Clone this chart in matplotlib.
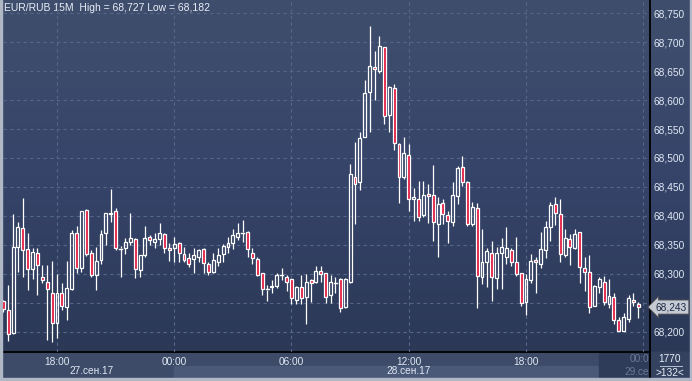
import numpy as np
import matplotlib
matplotlib.use("Agg")
import matplotlib.pyplot as plt
from matplotlib.patches import Rectangle
from matplotlib.colors import LinearSegmentedColormap
import matplotlib.transforms as mtrans

plt.rcParams['font.family'] = ['Liberation Sans', 'DejaVu Sans']

# EUR/RUB 15M, свечи 27.09 15:15 ... 28.09 23:45 (индекс 1..131)
opens = [
    68.254, 68.238, 68.199, 68.347, 68.379, 68.343, 68.308, 68.336, 68.295, 68.287,
    68.268, 68.216, 68.268, 68.243, 68.274, 68.370, 68.310, 68.410, 68.336, 68.298,
    68.324, 68.370, 68.403, 68.408, 68.344, 68.344, 68.356, 68.360, 68.307, 68.332,
    68.363, 68.356, 68.361, 68.369, 68.345, 68.344, 68.353, 68.335, 68.327, 68.325,
    68.330, 68.343, 68.318, 68.304, 68.321, 68.335, 68.347, 68.353, 68.364, 68.371,
    68.373, 68.336, 68.325, 68.301, 68.274, 68.277, 68.279, 68.298, 68.295, 68.291,
    68.256, 68.277, 68.260, 68.290, 68.287, 68.306, 68.301, 68.264, 68.285, 68.291,
    68.243, 68.287, 68.467, 68.459, 68.537, 68.613, 68.657, 68.650, 68.691, 68.575,
    68.620, 68.524, 68.467, 68.506, 68.429, 68.430, 68.401, 68.438, 68.436, 68.386,
    68.422, 68.402, 68.390, 68.435, 68.484, 68.459, 68.386, 68.413, 68.295, 68.321,
    68.337, 68.293, 68.336, 68.330, 68.341, 68.321, 68.301, 68.251, 68.290, 68.324,
    68.318, 68.341, 68.381, 68.421, 68.403, 68.332, 68.360, 68.344, 68.372, 68.310,
    68.304, 68.245, 68.277, 68.287, 68.249, 68.260, 68.220, 68.202, 68.222, 68.256,
    68.249]
highs = [
    68.255, 68.281, 68.403, 68.390, 68.431, 68.370, 68.344, 68.344, 68.316, 68.316,
    68.323, 68.300, 68.285, 68.322, 68.376, 68.382, 68.409, 68.412, 68.341, 68.347,
    68.376, 68.406, 68.446, 68.413, 68.348, 68.362, 68.405, 68.362, 68.333, 68.383,
    68.367, 68.371, 68.388, 68.370, 68.353, 68.364, 68.356, 68.347, 68.336, 68.344,
    68.343, 68.344, 68.321, 68.337, 68.344, 68.352, 68.364, 68.377, 68.388, 68.393,
    68.374, 68.344, 68.330, 68.302, 68.281, 68.290, 68.301, 68.310, 68.298, 68.292,
    68.279, 68.298, 68.300, 68.291, 68.314, 68.314, 68.302, 68.298, 68.295, 68.293,
    68.293, 68.490, 68.527, 68.544, 68.635, 68.727, 68.684, 68.710, 68.692, 68.624,
    68.627, 68.525, 68.536, 68.524, 68.448, 68.460, 68.460, 68.456, 68.488, 68.433,
    68.430, 68.409, 68.458, 68.487, 68.503, 68.460, 68.424, 68.423, 68.377, 68.344,
    68.357, 68.346, 68.362, 68.381, 68.344, 68.363, 68.302, 68.300, 68.335, 68.329,
    68.373, 68.392, 68.424, 68.432, 68.429, 68.377, 68.369, 68.377, 68.373, 68.329,
    68.333, 68.281, 68.295, 68.296, 68.291, 68.267, 68.226, 68.232, 68.264, 68.267,
    68.252]
lows = [
    68.234, 68.184, 68.197, 68.304, 68.295, 68.272, 68.291, 68.264, 68.284, 68.187,
    68.182, 68.189, 68.238, 68.221, 68.272, 68.301, 68.304, 68.331, 68.295, 68.272,
    68.318, 68.350, 68.390, 68.341, 68.295, 68.335, 68.350, 68.293, 68.295, 68.329,
    68.350, 68.344, 68.350, 68.337, 68.323, 68.321, 68.321, 68.321, 68.312, 68.302,
    68.321, 68.302, 68.298, 68.302, 68.314, 68.321, 68.336, 68.343, 68.359, 68.356,
    68.330, 68.318, 68.297, 68.264, 68.254, 68.268, 68.275, 68.290, 68.271, 68.248,
    68.248, 68.249, 68.214, 68.252, 68.284, 68.287, 68.250, 68.250, 68.267, 68.235,
    68.241, 68.284, 68.386, 68.444, 68.536, 68.545, 68.600, 68.647, 68.559, 68.544,
    68.514, 68.423, 68.463, 68.409, 68.392, 68.392, 68.399, 68.388, 68.357, 68.330,
    68.386, 68.353, 68.383, 68.420, 68.452, 68.383, 68.383, 68.241, 68.283, 68.277,
    68.254, 68.274, 68.274, 68.318, 68.313, 68.297, 68.245, 68.229, 68.285, 68.268,
    68.310, 68.327, 68.357, 68.385, 68.321, 68.330, 68.316, 68.343, 68.285, 68.270,
    68.233, 68.244, 68.268, 68.246, 68.241, 68.214, 68.201, 68.201, 68.218, 68.244,
    68.224]
closes = [
    68.239, 68.197, 68.347, 68.381, 68.341, 68.308, 68.338, 68.316, 68.290, 68.274,
    68.215, 68.267, 68.245, 68.275, 68.371, 68.310, 68.408, 68.335, 68.298, 68.322,
    68.369, 68.405, 68.406, 68.344, 68.343, 68.355, 68.362, 68.308, 68.332, 68.362,
    68.359, 68.360, 68.370, 68.344, 68.341, 68.351, 68.336, 68.324, 68.318, 68.332,
    68.341, 68.319, 68.304, 68.324, 68.333, 68.348, 68.353, 68.367, 68.370, 68.372,
    68.343, 68.327, 68.298, 68.274, 68.273, 68.279, 68.298, 68.298, 68.287, 68.258,
    68.278, 68.259, 68.287, 68.284, 68.306, 68.300, 68.261, 68.286, 68.285, 68.241,
    68.291, 68.472, 68.456, 68.534, 68.612, 68.659, 68.653, 68.693, 68.573, 68.623,
    68.525, 68.467, 68.508, 68.430, 68.432, 68.399, 68.436, 68.434, 68.389, 68.421,
    68.403, 68.392, 68.436, 68.482, 68.459, 68.387, 68.415, 68.297, 68.321, 68.340,
    68.294, 68.336, 68.347, 68.344, 68.320, 68.300, 68.250, 68.291, 68.323, 68.320,
    68.343, 68.381, 68.419, 68.405, 68.334, 68.362, 68.346, 68.369, 68.312, 68.303,
    68.243, 68.279, 68.291, 68.251, 68.262, 68.220, 68.202, 68.225, 68.258, 68.251,
    68.243]

price_ticks = [68.20, 68.25, 68.30, 68.35, 68.40, 68.45, 68.50, 68.55, 68.60, 68.65, 68.70, 68.75]
time_pos = [12, 36, 60, 84, 108, 132]
time_labels = ['18:00', '00:00', '06:00', '12:00', '18:00', '00:00']
date_pos = [19, 84]
date_labels = ['27.сен.17', '28.сен.17']
last_price = 68.243

W, H = 692, 381
fig = plt.figure(figsize=(W / 100, H / 100), dpi=100)

# фон в пикселях
bg = fig.add_axes([0, 0, 1, 1])
bg.set_xlim(0, W)
bg.set_ylim(H, 0)
bg.axis('off')
cmap = LinearSegmentedColormap.from_list('bgc', ['#404e6d', '#36446a', '#2b3856'])
grad = np.linspace(0, 1, 256).reshape(-1, 1)
bg.imshow(grad, cmap=cmap, extent=(0, W, 352, 0), aspect='auto', zorder=0)
bg.add_patch(Rectangle((0, 352), W, 29, color='#3d4b68', zorder=1))
bg.add_patch(Rectangle((174, 366), 425, 12, color='#4b5978', zorder=1))
bg.add_patch(Rectangle((599, 352), 51, 26, color='#2f3c59', zorder=1))
bg.add_patch(Rectangle((650, 352), 40, 26, color='#34415f', zorder=1))
bg.plot([3, 650], [352, 352], color='black', lw=1.3, zorder=2)
bg.plot([650, 650], [0, 378], color='black', lw=1.3, zorder=2)
bg.add_patch(Rectangle((0, 0), 2, H, color='#b0b8c6', zorder=3))
bg.add_patch(Rectangle((0, 378), W, 3, color='#b0b8c6', zorder=3))
bg.add_patch(Rectangle((690, 0), 2, H, color='#b0b8c6', zorder=3))

bg.text(4, 8, 'EUR/RUB 15M  High = 68,727 Low = 68,182', fontsize=7.5,
        color='#e8eef8', ha='left', va='center', zorder=4)
bg.text(670, 359, '1770', fontsize=7.3, color='#e8eef8', ha='center', va='center', zorder=4)
bg.plot([660, 682], [366, 366], color='#b8c0d0', lw=0.7, zorder=4)
bg.text(670, 373, '>132<', fontsize=7.3, color='#e8eef8', ha='center', va='center', zorder=4)
bg.text(649, 359, '00:0', fontsize=7.3, color='#6b7794', ha='right', va='center', zorder=4)
bg.text(649, 372, '29.се', fontsize=7.3, color='#6b7794', ha='right', va='center', zorder=4)

# график
ax = fig.add_axes([3 / W, 29 / H, 647 / W, 351 / H])
ax.patch.set_alpha(0)
for s in ax.spines.values():
    s.set_visible(False)
ax.set_xlim(0.94, 133.39)
ax.set_ylim(68.1655, 68.7707)

for p in price_ticks:
    ax.axhline(p, color='#56658a', lw=0.8, ls=(0, (3, 3)), zorder=1)
for t in time_pos:
    ax.axvline(t, color='#56658a', lw=0.8, ls=(0, (3, 3)), zorder=1)

red = '#e3173e'
bw = 0.6
for k in range(len(opens)):
    x = k + 1
    o, h, l, c = opens[k], highs[k], lows[k], closes[k]
    top, bot = max(o, c), min(o, c)
    ax.plot([x, x], [top, h], color='white', lw=0.9, zorder=3, solid_capstyle='butt')
    ax.plot([x, x], [l, bot], color='white', lw=0.9, zorder=3, solid_capstyle='butt')
    if top - bot < 0.0015:
        ax.plot([x - bw / 2, x + bw / 2], [(top + bot) / 2] * 2, color='white', lw=1.0, zorder=4)
    else:
        fc = red if c < o else 'none'
        ax.add_patch(Rectangle((x - bw / 2, bot), bw, top - bot, facecolor=fc,
                               edgecolor='white', lw=0.9, zorder=4))

# метка 68,250 закрыта плашкой текущей цены
ylabels = [f'{p:.3f}'.replace('.', ',') for p in price_ticks]
ylabels[1] = ''
ax.yaxis.tick_right()
ax.set_yticks(price_ticks)
ax.set_yticklabels(ylabels)
ax.tick_params(axis='y', length=0, pad=2.5, labelsize=7.3, labelcolor='#e0e8f4')
ax.set_xticks(time_pos[:-1])
ax.set_xticklabels(time_labels[:-1])
ax.tick_params(axis='x', length=0, pad=3.5, labelsize=7.3, labelcolor='#e0e8f4')

tr = mtrans.blended_transform_factory(ax.transData, ax.transAxes)
for xp, lab in zip(date_pos, date_labels):
    ax.text(xp, -0.054, lab, transform=tr, fontsize=7.3, color='#e0e8f4',
            ha='center', va='center')

ax.annotate(f'{last_price:.3f}'.replace('.', ','), xy=(1.0, last_price),
            xycoords=('axes fraction', 'data'), xytext=(4, 0), textcoords='offset points',
            ha='left', va='center', fontsize=7.3, color='#1c2a48', annotation_clip=False,
            bbox=dict(boxstyle='larrow,pad=0.2', fc='#c6cbd3', ec='#505050', lw=0.6))

fig.savefig('out.png', dpi=100)
